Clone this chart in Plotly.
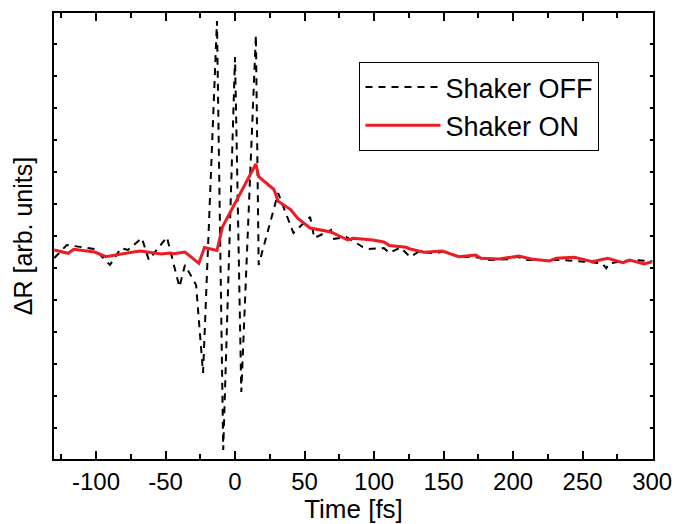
import plotly.graph_objects as go

# Shaker OFF (black dashed)
t_off = [-130, -121, -101, -90, -82, -77, -67, -62, -49, -40, -36, -28, -23, -13, -8.5, 0, 4.5,
         15, 17, 31, 42, 54, 57, 69, 70, 80, 92, 96, 107, 111, 119, 126, 132, 145, 150, 160,
         174, 181, 196, 203, 210, 225, 236, 251, 264, 267, 269, 285, 300]
r_off = [202, 215, 211, 195, 212, 210, 222, 200, 223, 173, 195, 175, 87, 439, 10, 403, 68,
         425, 195, 267, 227, 243, 222, 230, 221, 223, 213, 211, 212, 207, 212.5, 203, 208.3, 206.7, 209, 203.3,
         202.7, 200, 200.7, 203.3, 200, 200, 200, 198.3, 196.7, 191.7, 196.7, 200, 199]

# Shaker ON (red solid)
t_on = [-130, -120, -116, -106, -101, -93, -83, -72, -68, -53, -47, -44, -36, -26, -22, -13, -9,
        0, 4, 15, 17, 28, 31, 40, 45, 54, 69, 81, 85, 99, 107, 111, 123, 126, 136, 140, 149,
        161, 173, 177, 190, 204, 213, 226, 231, 244, 257, 268, 279, 284, 294, 300]
r_on = [210, 206.7, 210.7, 209, 208, 203.3, 206, 208.3, 209, 206, 207, 206.3, 208, 196.7, 212.5, 209.5, 233.3,
        256.7, 268.3, 296, 283.3, 270.5, 258.7, 250.5, 241.7, 232, 228, 220, 221.7, 220, 218, 214.5, 212.7, 211, 207.7, 208.3, 209,
        203.3, 205, 201.7, 201, 204, 201, 199, 201.7, 202.7, 198.3, 201.7, 197.3, 200, 196, 198.3]

x_ticks = [-100, -50, 0, 50, 100, 150, 200, 250, 300]

FONT = "Liberation Sans, Arial, Helvetica, sans-serif"

fig = go.Figure()
fig.add_trace(go.Scatter(x=t_off, y=r_off, mode="lines", name="Shaker OFF",
                         line=dict(color="black", width=2, dash="7px,6px")))
fig.add_trace(go.Scatter(x=t_on, y=r_on, mode="lines", name="Shaker ON",
                         line=dict(color="#ec1c24", width=3)))

fig.update_layout(
    width=675, height=524,
    margin=dict(l=54, r=22, t=13, b=65),
    paper_bgcolor="white", plot_bgcolor="white",
    font=dict(family=FONT, size=24, color="black"),
    showlegend=True,
    legend=dict(x=0.51, y=0.89, xanchor="left", yanchor="top",
                bordercolor="black", borderwidth=1, bgcolor="white",
                font=dict(family=FONT, size=27), itemwidth=75, tracegroupgap=0,
                entrywidth=250, entrywidthmode="pixels"),
    xaxis=dict(range=[-130.2, 300.6], tickmode="array", tickvals=x_ticks,
               ticktext=[str(v) for v in x_ticks],
               ticks="inside", ticklen=8, tickwidth=1.5, tickcolor="black",
               minor=dict(ticks="inside", dtick=25, tick0=0, ticklen=5, tickwidth=1.5, tickcolor="black"),
               showline=True, linecolor="black", linewidth=2, mirror="allticks",
               showgrid=False, zeroline=False, automargin=False,
               title=dict(text="Time [fs]", standoff=6, font=dict(family=FONT, size=26)),
               tickfont=dict(family=FONT, size=24)),
    yaxis=dict(range=[1, 447], tick0=0, dtick=32, ticks="inside", ticklen=3,
               tickwidth=1.5, tickcolor="black", showticklabels=False,
               showline=True, linecolor="black", linewidth=2, mirror="allticks",
               showgrid=False, zeroline=False, automargin=False,
               title=dict(text="ΔR [arb. units]", standoff=12, font=dict(family=FONT, size=25))),
)

fig.write_html("out.html")
